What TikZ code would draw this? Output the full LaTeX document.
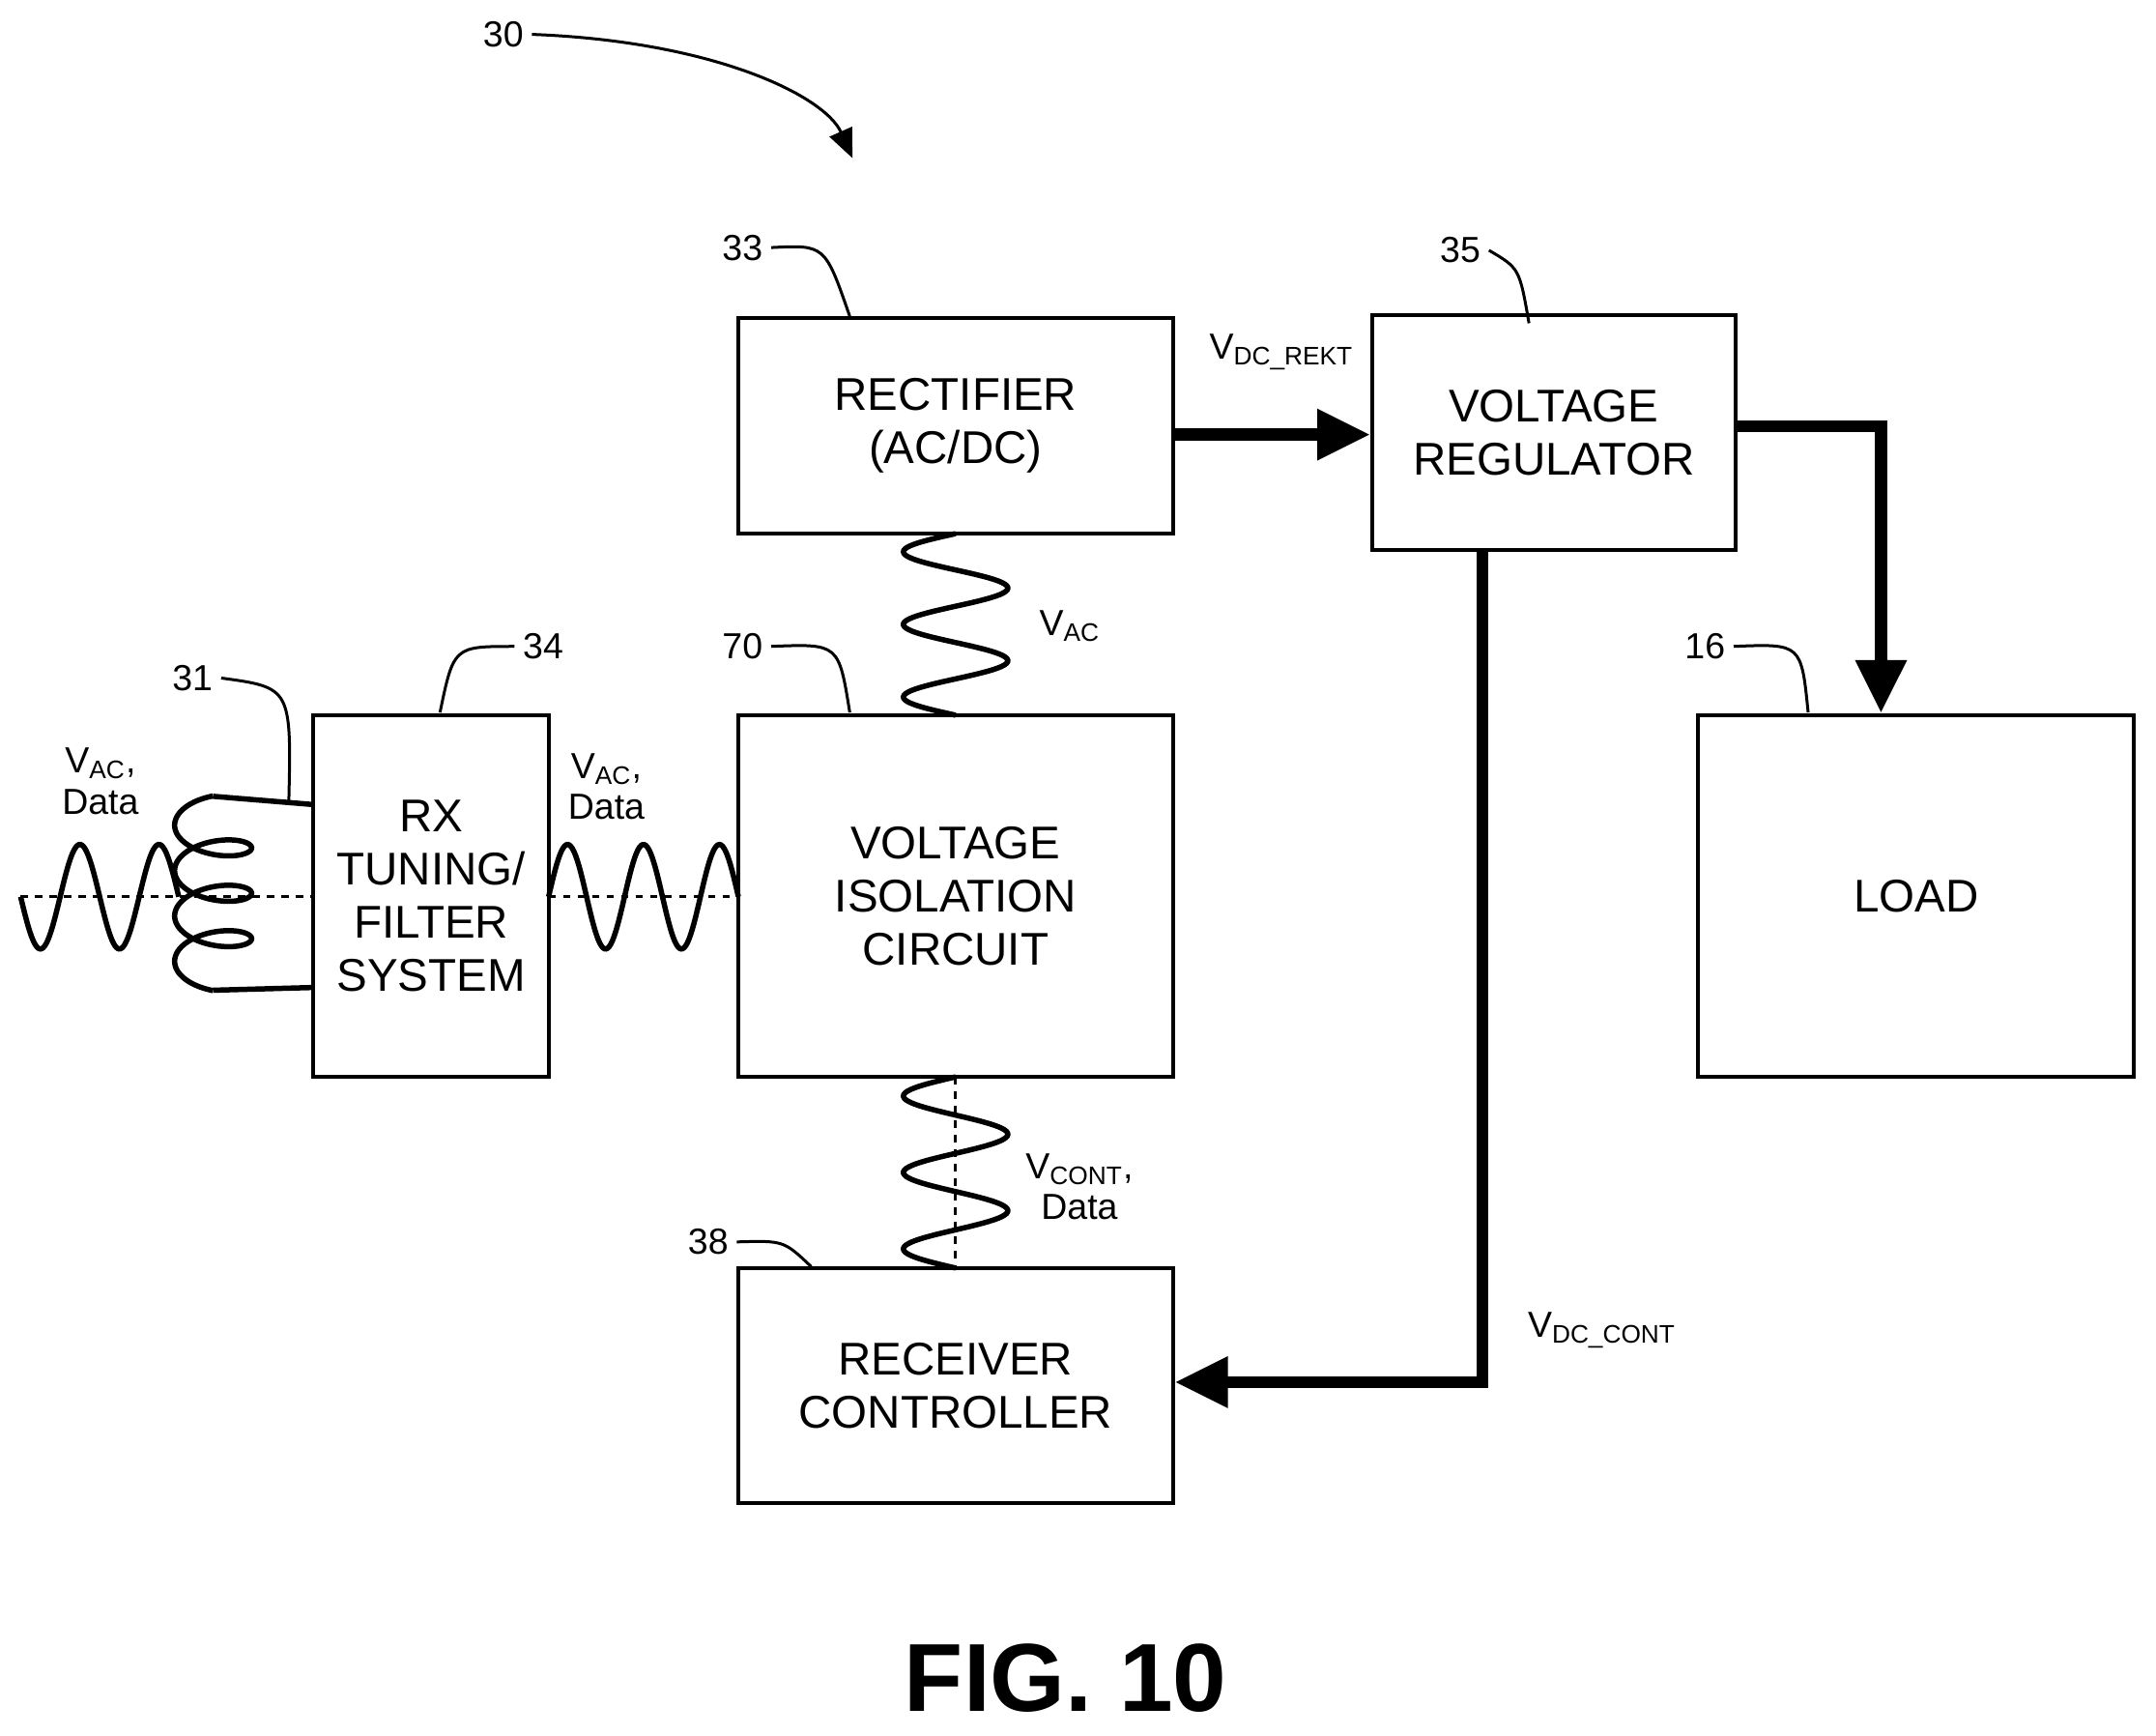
\documentclass[tikz,border=0pt]{standalone}
\usepackage{fontspec}
\setmainfont{Liberation Sans}
\usetikzlibrary{arrows.meta}
\begin{document}
\begin{tikzpicture}[x=0.02cm,y=-0.02cm,
  box/.style={draw,line width=1.6pt,align=center,font=\fontsize{19}{22}\selectfont,inner sep=0pt},
  num/.style={font=\fontsize{15}{18}\selectfont},
  lbl/.style={font=\fontsize{15}{17}\selectfont,align=center},
  thick arr/.style={line width=5pt,-{Triangle[length=22pt,width=20pt]}},
  wave/.style={line width=2.2pt},
  lead/.style={line width=1.2pt}]
\useasboundingbox (0,0) rectangle (1568,1262);
\node[box,minimum width=6.32cm,minimum height=3.14cm] (rect) at (695,309.5) {RECTIFIER\\(AC/DC)};
\node[box,minimum width=5.28cm,minimum height=3.42cm] (vr) at (1130,314.5) {VOLTAGE\\REGULATOR};
\node[box,minimum width=3.42cm,minimum height=5.26cm] (rx) at (313.5,651.5) {RX\\TUNING/\\FILTER\\SYSTEM};
\node[box,minimum width=6.32cm,minimum height=5.26cm] (vic) at (695,651.5) {VOLTAGE\\ISOLATION\\CIRCUIT};
\node[box,minimum width=6.34cm,minimum height=5.26cm] (load) at (1393.5,651.5) {LOAD};
\node[box,minimum width=6.32cm,minimum height=3.42cm] (rc) at (695,1007.5) {RECEIVER\\CONTROLLER};
% thick arrows
\draw[thick arr] (rect.east |- 0,316) -- (vr.west |- 0,316);
\coordinate (c1) at (1368,310);
\draw[thick arr] (vr.east |- c1) -- (c1) -- (load.north -| c1);
\coordinate (c2) at (1078,1005);
\draw[thick arr] (vr.south -| c2) -- (c2) -- (rc.east |- c2);
% waves
\draw[wave] plot[domain=388:520,samples=120] ({695-38*sin(900/132*(\x-388))},\x);
\draw[wave] plot[domain=783:922,samples=120] ({695-38*sin(900/139*(\x-783))},\x);
\draw[lead,dashed] (695,783) -- (695,922);
\draw[wave] plot[domain=399:537,samples=120] (\x,{652-38*sin(900/138*(\x-399))});
\draw[lead,dashed] (399,652) -- (537,652);
\draw[wave] plot[domain=15:130,samples=120] (\x,{652+38*sin(720/115*(\x-15))});
\draw[lead,dashed] (15,652) -- (228,652);
% coil
\coordinate (w1) at (228,585); \coordinate (w2) at (228,718);
\coordinate (k1) at (155,579); \coordinate (k2) at (155,720);
\draw[wave] (w1) -- (k1);
\draw[wave] plot[domain=-90:1170,samples=300] ({155-28*cos(\x)},{600+\x/360*33+13*sin(\x)});
\draw[wave] (w2) -- (k2);
% leaders
\node[num] (n33) at (540,180) {33}; \draw[lead] (n33.east) .. controls (600,178) .. (618,230);
\node[num] (n35) at (1062,182) {35}; \draw[lead] (n35.east) .. controls (1105,195) .. (1112,235);
\node[num] (n34) at (395,470) {34}; \draw[lead] (n34.west) .. controls (330,470) .. (320,518);
\node[num] (n31) at (140,493) {31}; \draw[lead] (n31.east) .. controls (212,500) .. (210,585);
\node[num] (n70) at (540,470) {70}; \draw[lead] (n70.east) .. controls (610,468) .. (618,518);
\node[num] (n16) at (1240,470) {16}; \draw[lead] (n16.east) .. controls (1310,468) .. (1315,518);
\node[num] (n38) at (515,903) {38}; \draw[lead] (n38.east) .. controls (570,902) .. (590,921);
\node[num] (n30) at (366,25) {30};
\draw[lead,-{Triangle[length=12pt,width=10pt]}] (n30.east) .. controls (520,30) and (600,70) .. (620,115);
% labels
\node[lbl] (l1) at (932,256) {V\textsubscript{DC\_REKT}};
\node[lbl] (l2) at (778,455) {V\textsubscript{AC}};
\node[lbl] (l3) at (73,568) {V\textsubscript{AC},\\Data};
\node[lbl] (l4) at (441,572) {V\textsubscript{AC},\\Data};
\node[lbl] (l5) at (785,863) {V\textsubscript{CONT},\\Data};
\node[lbl] (l6) at (1165,967) {V\textsubscript{DC\_CONT}};
\node[font=\bfseries\fontsize{40}{44}\selectfont] (fig) at (775,1220) {FIG. 10};
\end{tikzpicture}
\end{document}
